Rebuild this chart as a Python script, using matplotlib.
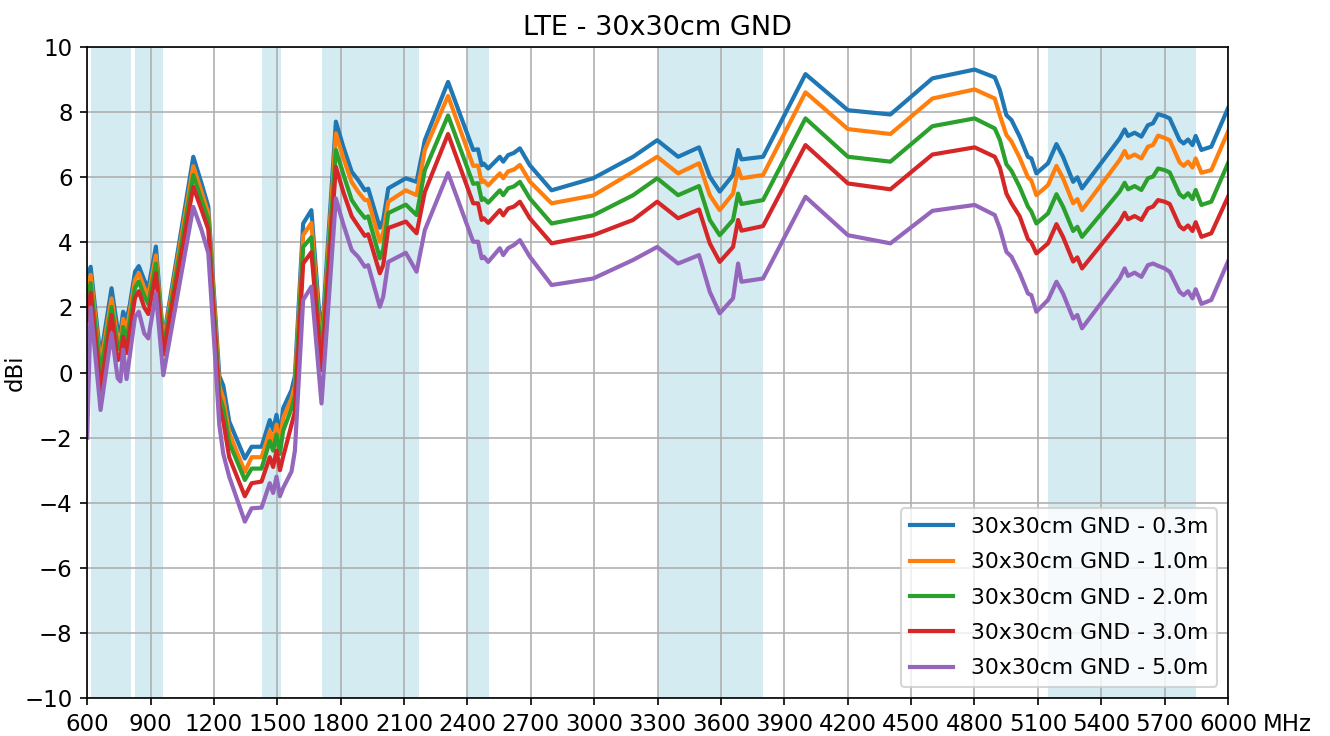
import matplotlib
matplotlib.use("Agg")
import matplotlib.pyplot as plt

# measured gain vs frequency, one curve per cable length
freq = [
    600, 616, 663, 715, 744, 757, 770, 786, 802, 826, 844, 870, 889, 925, 960,
    1102, 1141, 1173, 1204, 1225, 1244, 1272, 1346, 1378, 1425, 1464, 1480, 1496, 1512, 1527, 1567, 1583,
    1622, 1661, 1709, 1777, 1812, 1852, 1883, 1914, 1930, 1985, 2001, 2025, 2108, 2159, 2198, 2308,
    2427, 2450, 2467, 2477, 2498, 2553, 2569, 2592, 2620, 2648, 2695,
    2798, 2995, 3184, 3298, 3397, 3496, 3547, 3594, 3657, 3681, 3697, 3799,
    4000, 4201, 4402, 4601, 4801, 4896, 4920, 4951, 4975, 5014, 5053, 5069, 5093,
    5148, 5188, 5219, 5267, 5287, 5309, 5487, 5511, 5527, 5558, 5590, 5621, 5645, 5669,
    5700, 5724, 5771, 5790, 5811, 5832, 5847, 5874, 5921, 6000,
]

gain_03m = [
    2.9, 3.25, 0.45, 2.59, 1.31, 1.25, 1.87, 1.6, 2.1, 3.1, 3.27, 2.84, 2.59, 3.87, 1.0,
    6.63, 5.81, 5.1, 2.0, -0.1, -0.4, -1.5, -2.64, -2.28, -2.28, -1.46, -1.77, -1.3, -1.97, -1.1, -0.54, -0.1,
    4.58, 4.99, 0.9, 7.71, 6.94, 6.17, 5.91, 5.6, 5.65, 4.45, 4.69, 5.66, 5.97, 5.86, 7.14, 8.93,
    6.84, 6.86, 6.37, 6.42, 6.27, 6.63, 6.48, 6.68, 6.75, 6.89, 6.37,
    5.6, 5.97, 6.63, 7.14, 6.63, 6.92, 6.02, 5.56, 6.07, 6.84, 6.55, 6.63,
    9.17, 8.06, 7.93, 9.04, 9.31, 9.07, 8.68, 7.91, 7.76, 7.25, 6.63, 6.58, 6.12,
    6.43, 7.02, 6.63, 5.86, 6.00, 5.66, 7.19, 7.47, 7.27, 7.37, 7.25, 7.60, 7.66, 7.94,
    7.88, 7.81, 7.14, 7.04, 7.16, 6.99, 7.27, 6.84, 6.94, 8.12,
]

gain_10m = [
    2.6, 3.0, 0.23, 2.28, 1.0, 0.95, 1.65, 1.3, 1.9, 2.85, 3.05, 2.6, 2.35, 3.6, 0.9,
    6.34, 5.55, 4.9, 1.8, -0.4, -0.8, -1.85, -3.05, -2.6, -2.6, -1.8, -2.1, -1.6, -2.2, -1.4, -0.8, -0.4,
    4.22, 4.6, 0.6, 7.35, 6.6, 5.85, 5.55, 5.3, 5.3, 4.02, 4.3, 5.25, 5.6, 5.45, 6.84, 8.5,
    6.35, 6.36, 5.85, 5.9, 5.75, 6.12, 5.97, 6.18, 6.24, 6.38, 5.87,
    5.2, 5.44, 6.17, 6.63, 6.12, 6.43, 5.45, 4.99, 5.5, 6.27, 5.97, 6.07,
    8.61, 7.48, 7.33, 8.42, 8.7, 8.42, 7.9, 7.3, 7.1, 6.6, 6.0, 5.9, 5.45,
    5.76, 6.35, 5.97, 5.20, 5.33, 4.99, 6.53, 6.81, 6.60, 6.70, 6.58, 6.94, 6.99, 7.28,
    7.21, 7.14, 6.46, 6.35, 6.48, 6.30, 6.58, 6.14, 6.22, 7.40,
]

gain_20m = [
    2.2, 2.75, 0.0, 2.02, 0.8, 0.7, 1.4, 1.0, 1.6, 2.6, 2.8, 2.35, 2.1, 3.35, 0.75,
    6.07, 5.3, 4.7, 1.5, -0.7, -1.1, -2.15, -3.3, -2.95, -2.95, -2.1, -2.4, -1.9, -2.5, -1.8, -1.1, -0.7,
    3.86, 4.16, 0.4, 6.84, 6.1, 5.3, 5.0, 4.75, 4.8, 3.51, 3.8, 4.9, 5.16, 4.84, 6.22, 7.9,
    5.8, 5.82, 5.3, 5.35, 5.22, 5.6, 5.45, 5.66, 5.72, 5.86, 5.35,
    4.58, 4.83, 5.45, 5.97, 5.45, 5.73, 4.69, 4.22, 4.69, 5.5, 5.18, 5.3,
    7.81, 6.63, 6.48, 7.57, 7.81, 7.5, 7.15, 6.4, 6.2, 5.7, 5.1, 4.95, 4.58,
    4.89, 5.48, 5.10, 4.35, 4.48, 4.17, 5.56, 5.83, 5.63, 5.73, 5.61, 5.97, 6.02, 6.27,
    6.22, 6.15, 5.48, 5.38, 5.51, 5.33, 5.61, 5.15, 5.25, 6.43,
]

gain_30m = [
    1.6, 2.45, -0.55, 1.77, 0.38, 0.45, 1.1, 0.6, 1.3, 2.3, 2.5, 2.0, 1.8, 3.05, 0.55,
    5.71, 5.0, 4.4, 1.2, -1.0, -1.5, -2.6, -3.8, -3.4, -3.35, -2.6, -2.9, -2.4, -3.0, -2.6, -1.6, -1.2,
    3.35, 3.7, 0.08, 6.32, 5.55, 4.8, 4.5, 4.2, 4.25, 3.05, 3.3, 4.44, 4.64, 4.28, 5.55, 7.33,
    5.2, 5.2, 4.69, 4.74, 4.6, 4.99, 4.83, 5.04, 5.1, 5.25, 4.74,
    3.97, 4.22, 4.69, 5.25, 4.74, 5.01, 3.97, 3.4, 3.86, 4.69, 4.36, 4.5,
    6.99, 5.81, 5.63, 6.7, 6.92, 6.63, 6.3, 5.5, 5.2, 4.8, 4.1, 4.0, 3.66,
    3.97, 4.56, 4.17, 3.41, 3.54, 3.20, 4.63, 4.91, 4.71, 4.81, 4.69, 5.04, 5.10, 5.30,
    5.25, 5.18, 4.50, 4.40, 4.52, 4.35, 4.62, 4.17, 4.28, 5.40,
]

gain_50m = [
    -2.0, 2.0, -1.15, 1.2, -0.17, -0.27, 0.7, -0.2, 0.55, 1.71, 1.87, 1.2, 1.05, 2.43, -0.08,
    5.09, 4.38, 3.67, 0.6, -1.6, -2.5, -3.2, -4.58, -4.17, -4.15, -3.4, -3.7, -3.2, -3.8, -3.55, -3.04, -2.4,
    2.23, 2.64, -0.95, 5.35, 4.56, 3.76, 3.55, 3.25, 3.3, 2.02, 2.33, 3.4, 3.68, 3.1, 4.38, 6.13,
    4.02, 4.02, 3.51, 3.56, 3.4, 3.82, 3.61, 3.82, 3.92, 4.07, 3.56,
    2.69, 2.89, 3.46, 3.86, 3.35, 3.61, 2.48, 1.82, 2.28, 3.35, 2.79, 2.89,
    5.4, 4.22, 3.97, 4.97, 5.15, 4.84, 4.43, 3.71, 3.56, 3.05, 2.43, 2.38, 1.87,
    2.23, 2.79, 2.43, 1.66, 1.77, 1.36, 2.89, 3.20, 2.97, 3.07, 2.94, 3.30, 3.35, 3.28,
    3.20, 3.10, 2.48, 2.38, 2.50, 2.28, 2.56, 2.11, 2.23, 3.41,
]

series = [gain_03m, gain_10m, gain_20m, gain_30m, gain_50m]
labels = ["30x30cm GND - 0.3m", "30x30cm GND - 1.0m", "30x30cm GND - 2.0m",
          "30x30cm GND - 3.0m", "30x30cm GND - 5.0m"]

# LTE / WiFi bands to highlight (MHz)
band_lo = [617, 824, 1427, 1710, 2400, 3300, 5150]
band_hi = [806, 960, 1518, 2170, 2500, 3800, 5850]

xticks = list(range(600, 6001, 300))
yticks = list(range(-10, 11, 2))

fig, ax = plt.subplots(figsize=(1330 / 150, 736 / 150), dpi=150)
fig.subplots_adjust(left=0.0656, right=0.9233, top=0.936, bottom=0.0516)

for lo, hi in zip(band_lo, band_hi):
    ax.axvspan(lo, hi, color="lightblue", alpha=0.5, lw=0)

for vals, lab in zip(series, labels):
    ax.plot(freq, vals, label=lab, linewidth=2)

ax.set_xlim(600, 6000)
ax.set_ylim(-10, 10)
ax.set_xticks(xticks)
ax.set_yticks(yticks)
ax.tick_params(labelsize=11)
ax.grid(True)
ax.set_title("LTE - 30x30cm GND", fontsize=13)
ax.set_ylabel("dBi", fontsize=11)
ax.yaxis.set_label_coords(-0.053, 0.5)
ax.annotate("MHz", xy=(1, 0), xycoords="axes fraction", xytext=(16.5, -7),
            textcoords="offset points", ha="left", va="top", fontsize=11)
ax.legend(loc="lower right", fontsize=10.5, labelspacing=0.7)

fig.savefig("out.png", dpi=150)
